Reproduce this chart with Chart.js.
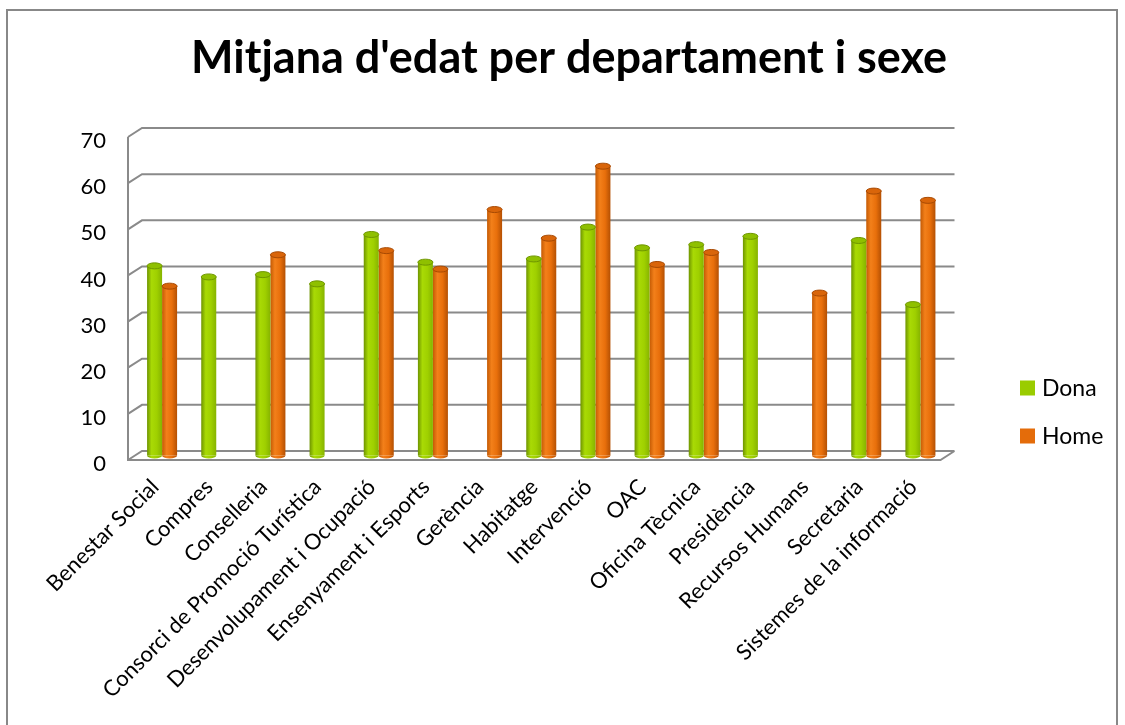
<!DOCTYPE html>
<html>
<head>
<meta charset="utf-8">
<script src="https://cdn.jsdelivr.net/npm/chart.js@4/dist/chart.umd.min.js"></script>
<style>
  html, body { margin: 0; padding: 0; background: #fff; }
  #wrap { width: 1125px; height: 725px; }
</style>
</head>
<body>
<div id="wrap"><canvas id="chart" width="1125" height="725"></canvas></div>
<script>
// data
const categories = [
  'Benestar Social', 'Compres', 'Conselleria', 'Consorci de Promoció Turística',
  'Desenvolupament i Ocupació', 'Ensenyament i Esports', 'Gerència', 'Habitatge',
  'Intervenció', 'OAC', 'Oficina Tècnica', 'Presidència', 'Recursos Humans',
  'Secretaria', 'Sistemes de la informació'
];
const dona = [41.1, 38.7, 39.2, 37.2, 47.9, 41.9, null, 42.6, 49.5, 45.0, 45.7, 47.5, null, 46.6, 32.7];
const home = [36.7, null, 43.5, null, 44.4, 40.4, 53.3, 47.1, 62.7, 41.4, 44.0, null, 35.2, 57.3, 55.3];
const seriesNames = ['Dona', 'Home'];
const yMin = 0, yMax = 70, yStep = 10;

const FONT = 'Lato, "Open Sans", sans-serif';
const DX = 14, DY = 9;          // depth of the 3d box
const GRID = '#8a8a8a';

const shades = {
  Dona: { base: '#9acc00', stops: ['#6e9400', '#a9da05', '#9fd000', '#86b300'], cap: '#8fc000', rim: '#6f9600' },
  Home: { base: '#e46c0a', stops: ['#c45a04', '#f3801a', '#e86f0b', '#b45003'], cap: '#d9650a', rim: '#a84a03' }
};

const boxPlugin = {
  id: 'box3d',
  afterLayout(chart) {
    // centre the title on the whole frame, not only left of the legend
    const t = chart.titleBlock;
    if (t) { t.left = 13; t.right = 1125; }
  },
  beforeDraw(chart) {
    const ctx = chart.ctx;
    ctx.save();
    ctx.strokeStyle = '#888';
    ctx.lineWidth = 2;
    ctx.strokeRect(7, 10, 1110, 740);
    ctx.restore();
  },
  beforeDatasetsDraw(chart) {
    const ctx = chart.ctx, a = chart.chartArea, y = chart.scales.y;
    ctx.save();
    ctx.strokeStyle = GRID;
    ctx.lineWidth = 2;
    ctx.beginPath();
    for (let v = yMin; v <= yMax; v += yStep) {
      const fy = y.getPixelForValue(v);
      ctx.moveTo(a.left, fy);
      ctx.lineTo(a.left + DX, fy - DY);
      ctx.lineTo(a.right + DX, fy - DY);
    }
    // left wall edge and floor front edge
    ctx.moveTo(a.left, y.getPixelForValue(yMax));
    ctx.lineTo(a.left, a.bottom);
    ctx.lineTo(a.right, a.bottom);
    ctx.lineTo(a.right + DX, a.bottom - DY);
    ctx.stroke();
    ctx.restore();

    // bars sit in the middle of the depth
    ctx.save();
    ctx.translate(DX / 2, -DY / 2);
    chart.data.datasets.forEach((ds, i) => {
      const sh = shades[ds.label];
      chart.getDatasetMeta(i).data.forEach(bar => {
        const w = bar.width, x0 = bar.x - w / 2;
        const g = ctx.createLinearGradient(x0, 0, x0 + w, 0);
        g.addColorStop(0, sh.stops[0]);
        g.addColorStop(0.3, sh.stops[1]);
        g.addColorStop(0.65, sh.stops[2]);
        g.addColorStop(1, sh.stops[3]);
        bar.options = Object.assign({}, bar.options, { backgroundColor: g });
      });
    });
  },
  afterDatasetsDraw(chart) {
    const ctx = chart.ctx;
    chart.data.datasets.forEach((ds, i) => {
      const sh = shades[ds.label];
      chart.getDatasetMeta(i).data.forEach((bar, j) => {
        if (ds.data[j] == null) return;
        const w = bar.width, rx = w / 2, ry = 3;
        // rounded bottom
        ctx.beginPath();
        ctx.ellipse(bar.x, bar.base, rx, ry, 0, 0, Math.PI);
        ctx.fillStyle = bar.options.backgroundColor;
        ctx.fill();
        // top cap
        ctx.beginPath();
        ctx.ellipse(bar.x, bar.y, rx, ry, 0, 0, Math.PI * 2);
        ctx.fillStyle = sh.cap;
        ctx.fill();
        ctx.lineWidth = 1;
        ctx.strokeStyle = sh.rim;
        ctx.stroke();
      });
    });
    ctx.restore();
  },
  afterDraw(chart) {
    const ctx = chart.ctx;
    ctx.save();
    ctx.font = '23px ' + FONT;
    ctx.textBaseline = 'middle';
    chart.data.datasets.forEach((ds, i) => {
      const cy = 388 + i * 48;
      ctx.fillStyle = shades[ds.label].base;
      ctx.fillRect(1020, cy - 7.5, 15, 15);
      ctx.fillStyle = '#000';
      ctx.fillText(ds.label, 1042, cy + 1);
    });
    ctx.restore();
  }
};

new Chart(document.getElementById('chart'), {
  type: 'bar',
  data: {
    labels: categories,
    datasets: [
      { label: seriesNames[0], data: dona, backgroundColor: shades.Dona.base, clip: false },
      { label: seriesNames[1], data: home, backgroundColor: shades.Home.base, clip: false }
    ]
  },
  options: {
    responsive: false,
    animation: false,
    devicePixelRatio: 1,
    categoryPercentage: 0.554,
    barPercentage: 1,
    layout: { padding: { left: 0, top: 0, right: 184.5, bottom: 0 } },
    plugins: {
      legend: { display: false },
      tooltip: { enabled: false },
      title: {
        display: true,
        text: "Mitjana d'edat per departament i sexe",
        color: '#000',
        font: { family: FONT, size: 45, weight: 'bold' },
        padding: { top: 31, bottom: 52 }
      }
    },
    scales: {
      x: {
        grid: { display: false, drawTicks: false },
        border: { display: false },
        ticks: {
          color: '#000',
          font: { family: FONT, size: 22 },
          minRotation: 45,
          maxRotation: 45,
          padding: 14,
          autoSkip: false
        },
        afterFit: s => { s.height = 265; }
      },
      y: {
        min: yMin,
        max: yMax,
        grid: { display: false, drawTicks: false },
        border: { display: false },
        ticks: { stepSize: yStep, color: '#000', font: { family: FONT, size: 22 }, padding: 22, labelOffset: 4 },
        afterFit: s => { s.width = 128; }
      }
    }
  },
  plugins: [boxPlugin]
});
</script>
</body>
</html>
